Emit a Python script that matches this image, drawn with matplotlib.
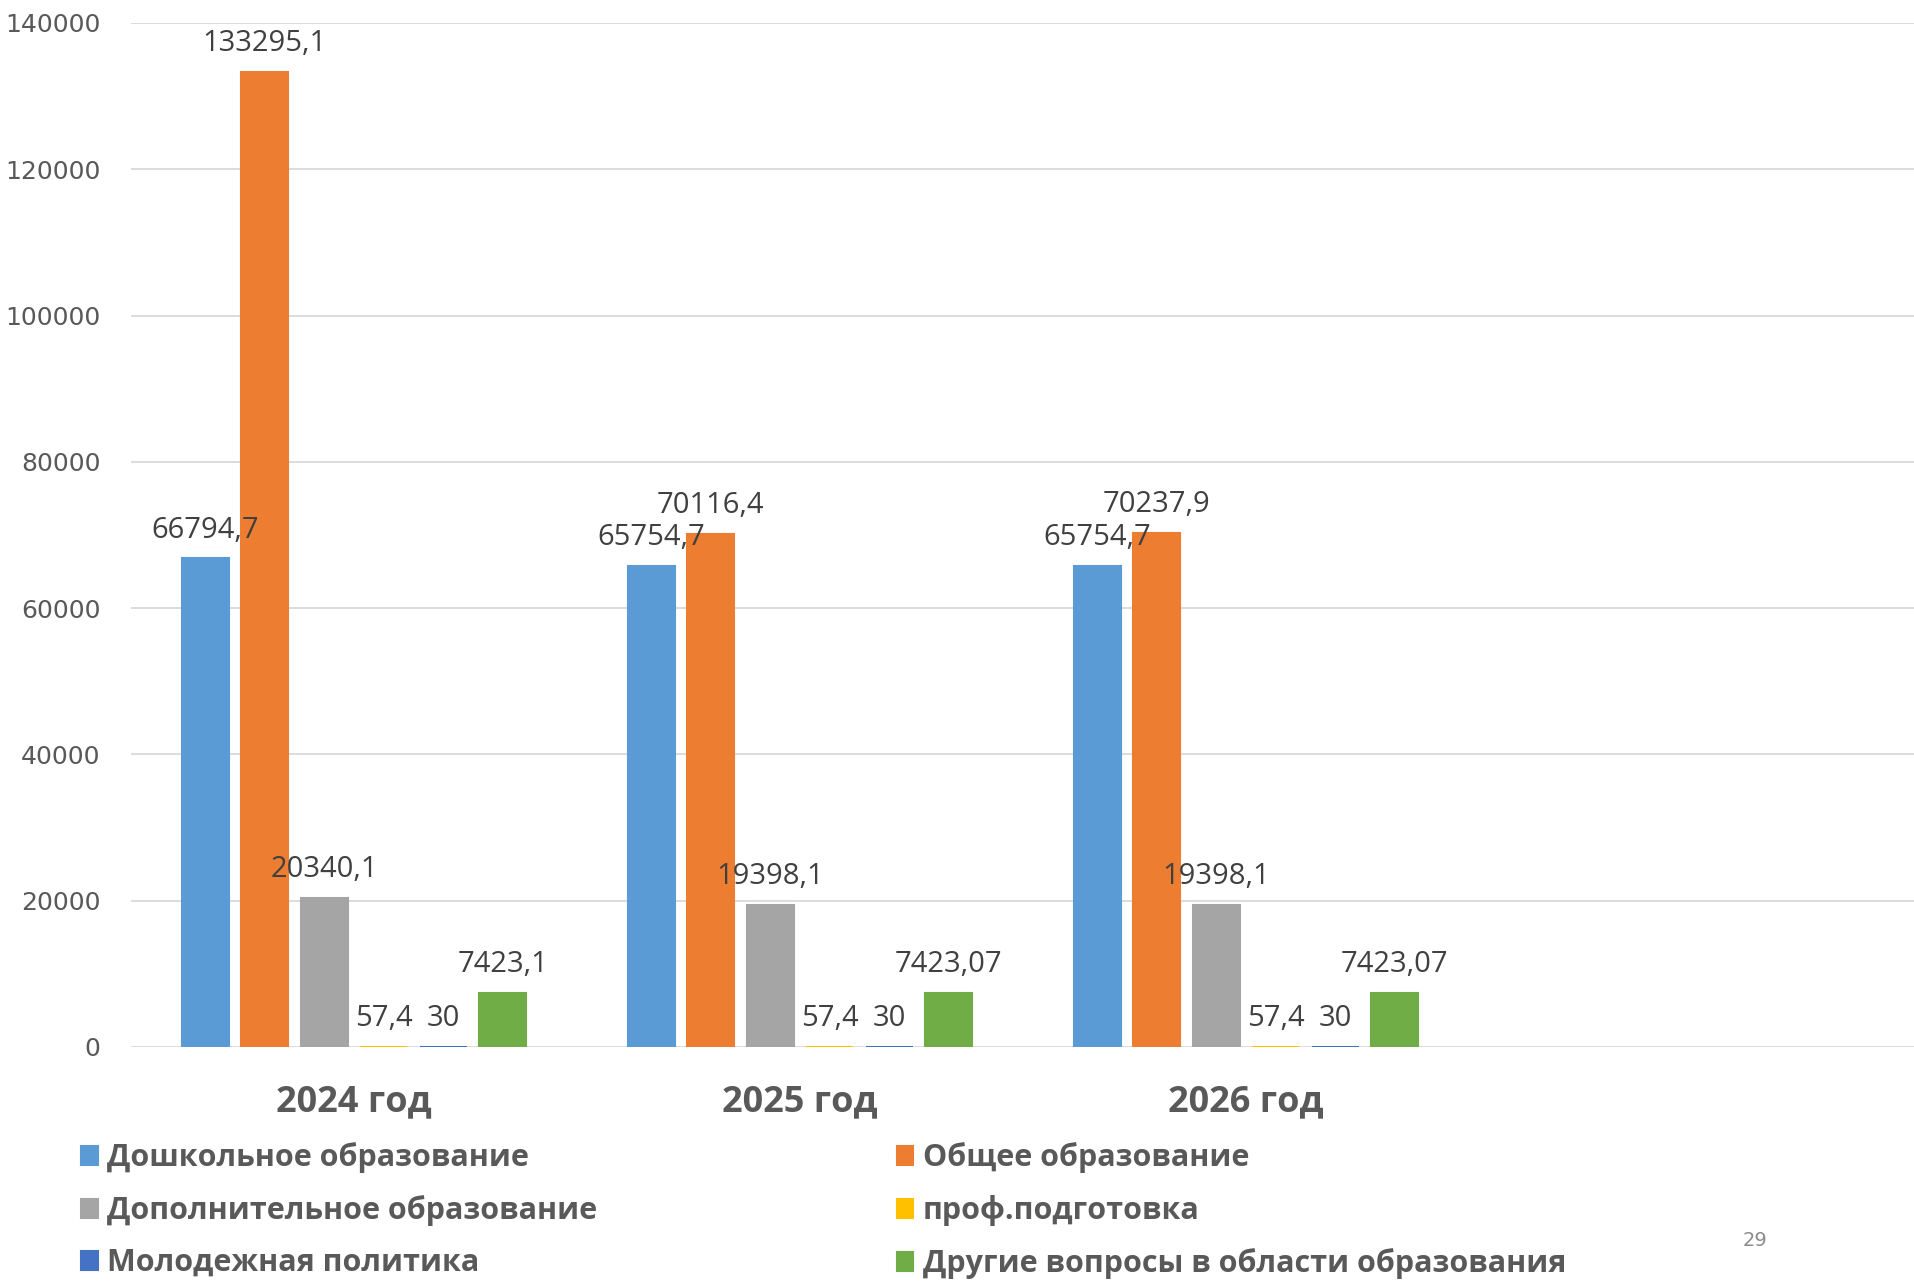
#!/usr/bin/env python3
"""Education spending by section, 2024-2026 (grouped bars)."""

import matplotlib

matplotlib.use("Agg")
import matplotlib.pyplot as plt
import numpy as np

years = ["2024 год", "2025 год", "2026 год", ""]
series_names = [
    "Дошкольное образование",
    "Общее образование",
    "Дополнительное образование",
    "проф.подготовка",
    "Молодежная политика",
    "Другие вопросы в области образования",
]
preschool = [66794.7, 65754.7, 65754.7]
general = [133295.1, 70116.4, 70237.9]
additional = [20340.1, 19398.1, 19398.1]
prof = [57.4, 57.4, 57.4]
youth = [30, 30, 30]
other = [7423.1, 7423.07, 7423.07]
series_values = [preschool, general, additional, prof, youth, other]
colors = ["#5B9BD5", "#ED7D31", "#A5A5A5", "#FFC000", "#4472C4", "#70AD47"]


def fmt(v: float) -> str:
    text = f"{v:.2f}".rstrip("0").rstrip(".")
    return text.replace(".", ",")


def main() -> int:
    fig = plt.figure(figsize=(19.15, 12.81), dpi=100)
    ax = fig.add_axes([0.0684, 0.1827, 0.9316, 0.7994])

    pitch = 0.1334
    width = 0.105
    x = np.arange(len(preschool))
    handles = []
    for i, (vals, color) in enumerate(zip(series_values, colors)):
        offset = (i - 2.5) * pitch
        bars = ax.bar(x + offset, vals, width=width, color=color, edgecolor=color,
                      linewidth=1.5, zorder=3)
        handles.append(bars)
        for xi, v in zip(x + offset, vals):
            ax.annotate(fmt(v), (xi, v), xytext=(0, 10), textcoords="offset points",
                        ha="center", va="bottom", fontsize=21, color="#404040",
                        family="Open Sans", zorder=10)

    ax.set_xlim(-0.5, 3.5)
    ax.set_ylim(0, 140000)
    ax.set_yticks(np.arange(0, 140001, 20000))
    ax.set_xticks(np.arange(len(years)))
    ax.set_xticklabels(years, fontsize=26, fontweight="bold", color="#595959", family="Open Sans")
    ax.tick_params(axis="x", length=0, pad=27)
    ax.tick_params(axis="y", length=0, pad=22, labelsize=18, labelcolor="#595959")
    ax.grid(axis="y", color="#D9D9D9", linewidth=1.3, zorder=0)
    for spine in ax.spines.values():
        spine.set_visible(False)

    # legend reads row by row in the original
    order = [0, 2, 4, 1, 3, 5]
    legend = fig.legend(
        [handles[k] for k in order], [series_names[k] for k in order],
        ncol=2, loc="lower left",
        bbox_to_anchor=(0.028, -0.02), frameon=False,
        prop={"family": "Open Sans", "weight": "bold", "size": 22},
        handlelength=0.55, handleheight=0.55, handletextpad=0.3,
        columnspacing=9.8, labelspacing=0.72,
    )
    for text in legend.get_texts():
        text.set_color("#595959")

    fig.text(1755 / 1915, 1 - 1241 / 1281, "29", fontsize=14, color="#8C8C8C",
             ha="center", va="center")

    fig.savefig("out.png", dpi=100)
    plt.close(fig)
    return 0


if __name__ == "__main__":
    raise SystemExit(main())
